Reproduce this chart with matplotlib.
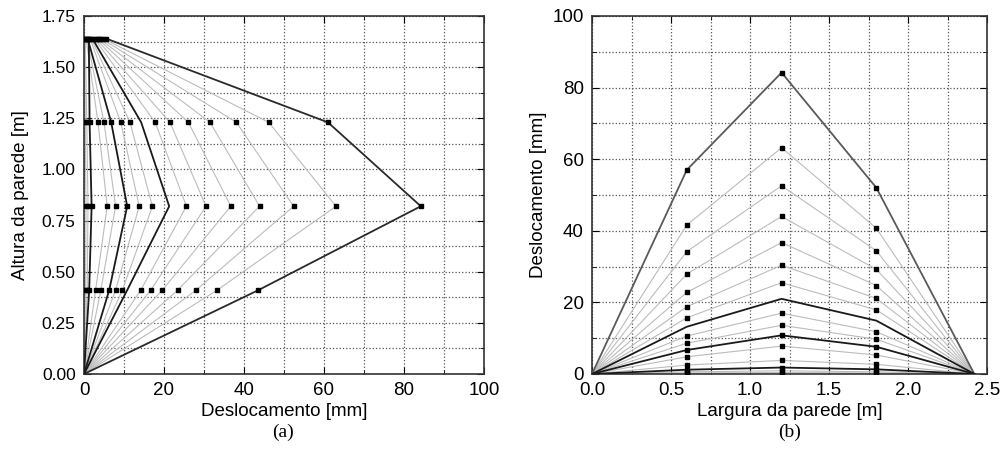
import numpy as np
import matplotlib
matplotlib.use('Agg')
import matplotlib.pyplot as plt
from matplotlib.ticker import MultipleLocator

plt.rcParams['font.family'] = ['Liberation Sans', 'DejaVu Sans']

## DATA
# (a) displacement along the wall height (centre line)
heights = [0.0, 0.41, 0.82, 1.23, 1.64]
# (b) displacement along the wall width at mid height
widths = [0.0, 0.6, 1.2, 1.8, 2.42]

# one row per load step, from largest to smallest
disp_a = [
    [0, 43.6, 84.2, 61.0, 5.5],
    [0, 33.3, 63.0, 46.2, 4.8],
    [0, 28.0, 52.4, 38.1, 4.3],
    [0, 23.4, 43.9, 31.5, 3.8],
    [0, 19.6, 36.7, 26.1, 3.4],
    [0, 16.7, 30.5, 21.5, 3.0],
    [0, 14.2, 25.6, 17.8, 2.6],
    [0, 10.8, 21.3, 14.3, 2.1],
    [0, 9.6, 17.1, 11.5, 1.8],
    [0, 7.9, 13.8, 9.2, 1.5],
    [0, 6.3, 10.8, 6.8, 0.9],
    [0, 4.2, 7.9, 5.0, 0.7],
    [0, 2.9, 5.8, 3.5, 0.5],
    [0, 1.3, 1.9, 1.4, 1.2],
    [0, 0.8, 1.0, 0.7, 0.3],
    [0, 0.4, 0.5, 0.3, 0.1],
]
disp_b = [
    [0, 57.0, 84.2, 52.0, 0],
    [0, 41.6, 63.2, 40.7, 0],
    [0, 34.2, 52.6, 34.4, 0],
    [0, 27.9, 44.0, 29.2, 0],
    [0, 22.8, 36.7, 24.7, 0],
    [0, 18.8, 30.4, 21.1, 0],
    [0, 15.7, 25.5, 17.9, 0],
    [0, 13.2, 21.0, 14.9, 0],
    [0, 10.6, 17.0, 11.8, 0],
    [0, 8.6, 13.6, 9.7, 0],
    [0, 6.7, 10.8, 7.6, 0],
    [0, 4.8, 7.8, 5.3, 0],
    [0, 2.5, 3.8, 2.7, 0],
    [0, 1.2, 1.8, 1.3, 0],
    [0, 0.6, 0.9, 0.6, 0],
    [0, 0.3, 0.4, 0.3, 0],
]
dark_steps = [7, 10, 13]   # highlighted (black) curves
no_marker = [7]

fig = plt.figure(figsize=(10.02, 4.57), dpi=100)
axa = fig.add_axes([84/1002, 83/457, 400/1002, 358/457])
axb = fig.add_axes([592/1002, 83/457, 395/1002, 358/457])


def style_of(i, outer_col):
    if i == 0:
        return outer_col, 1.3, 3
    if i in dark_steps:
        return '#1a1a1a', 1.3, 3
    return '#bcbcbc', 0.8, 2


## PLOT (a)
for i, d in enumerate(disp_a):
    c, lw, z = style_of(i, '#2a2a2a')
    axa.plot(d, heights, color=c, lw=lw, zorder=z)
for i, d in enumerate(disp_a):
    if i in no_marker:
        continue
    axa.plot(d[1:], heights[1:], ls='none', marker='s', ms=2.2, color='black', zorder=4)
axa.set_xlim(0, 100)
axa.set_ylim(0, 1.75)
axa.xaxis.set_major_locator(MultipleLocator(20))
axa.xaxis.set_minor_locator(MultipleLocator(10))
axa.yaxis.set_major_locator(MultipleLocator(0.25))
axa.yaxis.set_minor_locator(MultipleLocator(0.125))
axa.yaxis.set_major_formatter(matplotlib.ticker.FormatStrFormatter('%.2f'))
axa.set_xlabel('Deslocamento [mm]', fontsize=13.5, labelpad=3)
axa.set_ylabel('Altura da parede [m]', fontsize=13.5, labelpad=9)

## PLOT (b)
for i, d in enumerate(disp_b):
    c, lw, z = style_of(i, '#5a5a5a')
    axb.plot(widths, d, color=c, lw=lw, zorder=z)
for i, d in enumerate(disp_b):
    if i in no_marker:
        continue
    axb.plot(widths[1:-1], d[1:-1], ls='none', marker='s', ms=2.2, color='black', zorder=4)
axb.set_xlim(0, 2.5)
axb.set_ylim(0, 100)
axb.xaxis.set_major_locator(MultipleLocator(0.5))
axb.xaxis.set_minor_locator(MultipleLocator(0.25))
axb.yaxis.set_major_locator(MultipleLocator(20))
axb.yaxis.set_minor_locator(MultipleLocator(10))
axb.xaxis.set_major_formatter(matplotlib.ticker.FormatStrFormatter('%.1f'))
axb.set_xlabel('Largura da parede [m]', fontsize=13.5, labelpad=3)
axb.set_ylabel('Deslocamento [mm]', fontsize=13.5, labelpad=4)

for ax in (axa, axb):
    ax.grid(True, which='both', ls=':', color='#555555', lw=0.9)
    ax.tick_params(which='both', direction='in', top=True, right=True, labelsize=13.5)
    ax.tick_params(which='major', length=5)
    ax.tick_params(which='minor', length=3)
    ax.tick_params(axis='x', which='major', pad=6)
    ax.tick_params(axis='y', which='major', pad=6)
    for s in ax.spines.values():
        s.set_linewidth(1.2)
        s.set_color('#333333')
    ax.set_axisbelow(True)
for lab in axa.get_yticklabels():
    lab.set_family(['Liberation Sans Narrow', 'Liberation Sans'])
    lab.set_fontsize(12.5)

fig.text(283/1002, 1 - 432/457, '(a)', family='Liberation Serif', fontsize=14, ha='center', va='center')
fig.text(790/1002, 1 - 432/457, '(b)', family='Liberation Serif', fontsize=14, ha='center', va='center')

fig.savefig('out.png', dpi=100)
